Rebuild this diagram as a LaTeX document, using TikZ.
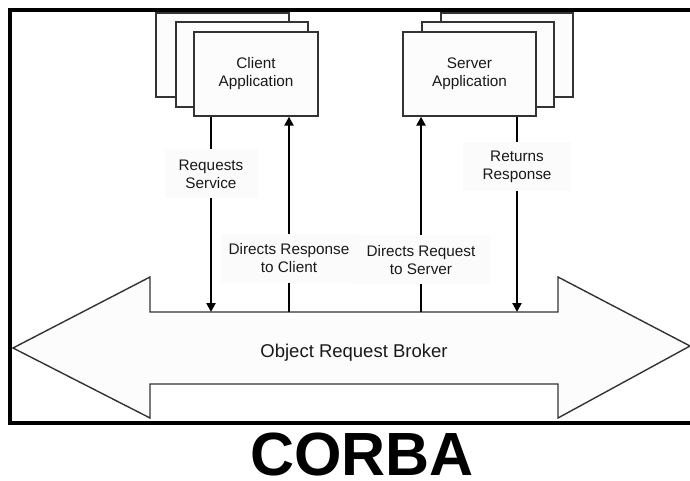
\documentclass[tikz,border=0pt]{standalone}
\usepackage{fontspec}
\setmainfont{Liberation Sans}
\usepackage{tikz}
\usetikzlibrary{arrows.meta}
\definecolor{edgegray}{HTML}{333333}
\colorlet{boxfill}{white!99!black}
\colorlet{labelfill}{white!98.5!black}
\colorlet{inkcolor}{black!90}
\tikzstyle{appbox} =[
    draw=edgegray,
    fill=boxfill,
    line width=1.3pt,
    minimum width=133pt,
    minimum height=84pt,
    inner sep=0pt,
    align=center,
    text=inkcolor,
    font=\fontsize{15.3}{18}\selectfont
    ]
\tikzstyle{msglabel} =[
    fill=labelfill,
    minimum height=49pt,
    inner xsep=7pt,
    align=center,
    text=inkcolor,
    font=\fontsize{15.3}{18}\selectfont
    ]
\tikzstyle{call} =[
    line width=2.6pt,
    -{Triangle[length=9pt,width=9pt]}
    ]
\tikzstyle{broker} =[
    draw=edgegray,
    fill=white!99!black,
    line width=1.4pt,
    line join=miter
    ]

\begin{document}
\begin{tikzpicture}[x=1pt,y=-1pt]
\useasboundingbox (0,0) rectangle (690,481);

% outer frame, open on the right
\draw[line width=3.5pt] (10,10) rectangle (700,423);

% stacked application windows
\node[appbox] (clientc) at (222.5,55) {};
\node[appbox, minimum width=132pt, minimum height=85pt] (clientb) at (242,64.5) {};
\node[appbox, minimum width=124pt] (client) at (256,74) {Client\\Application};

\node[appbox, minimum width=132pt] (serverc) at (507,55) {};
\node[appbox, minimum width=132pt, minimum height=85pt] (serverb) at (488,64.5) {};
\node[appbox] (server) at (469.5,74) {Server\\Application};

% the broker as a two-headed arrow
\draw[broker] (13,348) -- (150,277) -- (150,312) -- (558,312) -- (558,277)
    -- (690,346) -- (558,418) -- (558,384) -- (150,384) -- (150,418) -- cycle;
\node[anchor=base, text=inkcolor, font=\fontsize{18.5}{22}\selectfont] (orb) at (354,357) {Object Request Broker};

% ports on the upper edge of the broker
\coordinate (orb-rq) at (211,312);
\coordinate (orb-rp) at (289,312);
\coordinate (orb-dq) at (421,312);
\coordinate (orb-ds) at (517,312);

\draw[call] (orb-rq |- client.south) -- node[msglabel, pos=.293, minimum width=93pt] {Requests\\Service} (orb-rq);
\draw[call] (orb-rp) -- node[msglabel, pos=.276, minimum width=137pt] {Directs Response\\to Client} (orb-rp |- client.south);
\draw[call] (orb-dq) -- node[msglabel, pos=.268, minimum width=138pt] {Directs Request\\to Server} (orb-dq |- server.south);
\draw[call] (orb-ds |- server.south) -- node[msglabel, pos=.255, minimum width=108pt] {Returns\\Response} (orb-ds);

\node[inner sep=0pt, font=\fontsize{61}{61}\selectfont\bfseries] (title) at (362,454) {CORBA};
\end{tikzpicture}
\end{document}
